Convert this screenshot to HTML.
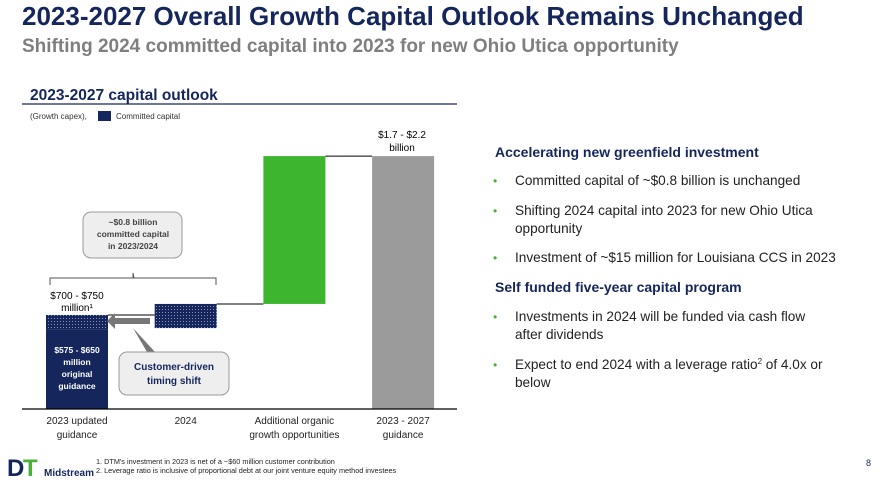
<!DOCTYPE html>
<html><head><meta charset="utf-8"><style>
body{margin:0;width:888px;height:484px;background:#fff;position:relative;overflow:hidden;font-family:"Liberation Sans",sans-serif}
.a{position:absolute;white-space:nowrap}
h1{position:absolute;left:22px;top:1px;margin:0;font-size:26px;color:#14265c;font-weight:bold}
h2{position:absolute;left:22px;top:36px;margin:0;font-size:19px;color:#7f7f7f;font-weight:bold}
.hd{color:#14265c;font-weight:bold;font-size:14px}
.b{font-size:13.6px;color:#222;line-height:18px;white-space:normal;width:360px}
.b:before{content:"•";color:#4caf3a;position:absolute;left:-22px;font-size:12px}
sup{font-size:8px;line-height:0;vertical-align:5px}
</style></head><body>
<h1>2023-2027 Overall Growth Capital Outlook Remains Unchanged</h1>
<h2>Shifting 2024 committed capital into 2023 for new Ohio Utica opportunity</h2>
<div class="a hd" style="left:495px;top:144px">Accelerating new greenfield investment</div>
<div class="a b" style="left:515px;top:172px">Committed capital of ~$0.8 billion is unchanged</div>
<div class="a b" style="left:515px;top:202px">Shifting 2024 capital into 2023 for new Ohio Utica opportunity</div>
<div class="a b" style="left:515px;top:249px;width:370px">Investment of ~$15 million for Louisiana CCS in 2023</div>
<div class="a hd" style="left:495px;top:279px">Self funded five-year capital program</div>
<div class="a b" style="left:515px;top:308px;width:305px">Investments in 2024 will be funded via cash flow after dividends</div>
<div class="a b" style="left:515px;top:356px;width:345px">Expect to end 2024 with a leverage ratio<sup>2</sup> of 4.0x or below</div>
<div class="a" style="left:866px;top:458px;font-size:9px;color:#14265c">8</div>
<svg width="888" height="484" style="position:absolute;left:0;top:0">
<defs><pattern id="h" width="3" height="3" patternUnits="userSpaceOnUse"><rect width="3" height="3" fill="#14265c"/><rect width="1" height="1" fill="#8a95b5"/></pattern></defs>
<text x="30" y="100" font-size="15.5" font-weight="bold" fill="#14265c">2023-2027 capital outlook</text>
<line x1="22" y1="104" x2="457" y2="104" stroke="#14265c" stroke-width="1.2"/>
<text x="30" y="119" font-size="8" fill="#333">(Growth capex),</text>
<rect x="98" y="111" width="13" height="10" fill="#14265c"/>
<text x="116" y="119" font-size="8" fill="#333">Committed capital</text>
<g id="bars"></g>
<line x1="22" y1="409" x2="457" y2="409" stroke="#000" stroke-width="1.2"/>
<text x="402" y="138" font-size="10" text-anchor="middle">$1.7 - $2.2</text>
<text x="402" y="151" font-size="10" text-anchor="middle">billion</text>
<text x="77" y="299" font-size="10" text-anchor="middle">$700 - $750</text>
<text x="77" y="311" font-size="10" text-anchor="middle">million¹</text>
<g font-size="8.5" font-weight="bold" fill="#fff" text-anchor="middle">
<text x="77" y="353">$575 - $650</text><text x="77" y="365">million</text><text x="77" y="377">original</text><text x="77" y="389">guidance</text></g>
<path d="M50 285 v-7 h83 v-5 l1 5 h82 v7" fill="none" stroke="#555"/>
<rect x="83" y="212" width="99" height="46" rx="8" fill="#eee" stroke="#999"/>
<g font-size="8.5" font-weight="bold" fill="#444" text-anchor="middle"><text x="133" y="225">~$0.8 billion</text><text x="133" y="237">committed capital</text><text x="133" y="249">in 2023/2024</text></g>
<path d="M150 318 h-35 v-5 l-8 8 l8 8 v-5 h35z" fill="#777"/>
<path d="M133 328 l22 24 h-8z" fill="#777"/>
<rect x="119" y="352" width="110" height="43" rx="8" fill="#eee" stroke="#999"/>
<g font-size="10" font-weight="bold" fill="#14265c" text-anchor="middle"><text x="174" y="370">Customer-driven</text><text x="174" y="384">timing shift</text></g>
<g font-size="10" fill="#222" text-anchor="middle" id="xl"></g>
<g font-size="7.3" fill="#222"><text x="96" y="464">1.   DTM's investment in 2023 is net of a ~$60 million customer contribution</text><text x="96" y="473">2.   Leverage ratio is inclusive of proportional debt at our joint venture equity method investees</text></g>
<g><text x="7" y="476" font-size="24" font-weight="bold" fill="#14265c" letter-spacing="-2">D</text><text x="23" y="476" font-size="24" font-weight="bold" fill="#4caf3a">T</text>
<text x="44" y="476" font-size="10" fill="#14265c" font-weight="bold">Midstream</text></g>
</svg>
<script>
const categories=["2023 updated|guidance","2024","Additional organic|growth opportunities","2023 - 2027|guidance"];
const baseValues=[0,624,810,0];
const solidTopValues=[610,624,1950,1950];
const hatchTopValues=[725,810,1950,1950];
const colors=["#14265c","#14265c","#3db52e","#9b9b9b"];
const y=v=>409-v*0.1297;
const xc=i=>77+i*108.7;
const g=document.getElementById('bars'),xl=document.getElementById('xl'),NS="http://www.w3.org/2000/svg";
categories.forEach((c,i)=>{
 const x=xc(i)-31;
 const r=document.createElementNS(NS,'rect');
 
 
 r.setAttribute('x',x);r.setAttribute('width',62);
 r.setAttribute('y',y(solidTopValues[i]));r.setAttribute('height',Math.max(0,y(baseValues[i])-y(solidTopValues[i])));
 r.setAttribute('fill',colors[i]);g.appendChild(r);
 if(hatchTopValues[i]>solidTopValues[i]){
  const lo=Math.max(solidTopValues[i],baseValues[i]);
  const hr=document.createElementNS(NS,'rect');
  
  
  hr.setAttribute('x',x);hr.setAttribute('width',62);hr.setAttribute('y',y(hatchTopValues[i]));
  hr.setAttribute('height',y(lo)-y(hatchTopValues[i]));hr.setAttribute('fill','url(#h)');g.appendChild(hr);
 }
 if(i<3){
  const l=document.createElementNS(NS,'line');
  
  
  const t=hatchTopValues[i];
  l.setAttribute('x1',x+62);l.setAttribute('x2',xc(i+1)-31);l.setAttribute('y1',y(t));l.setAttribute('y2',y(t));
  l.setAttribute('stroke','#000');g.appendChild(l);
 }
 c.split('|').forEach((s,j)=>{const t=document.createElementNS(NS,'text');
  
  
  t.setAttribute('x',xc(i));t.setAttribute('y',424+j*14);t.textContent=s;xl.appendChild(t);});
});
</script>
</body></html>
